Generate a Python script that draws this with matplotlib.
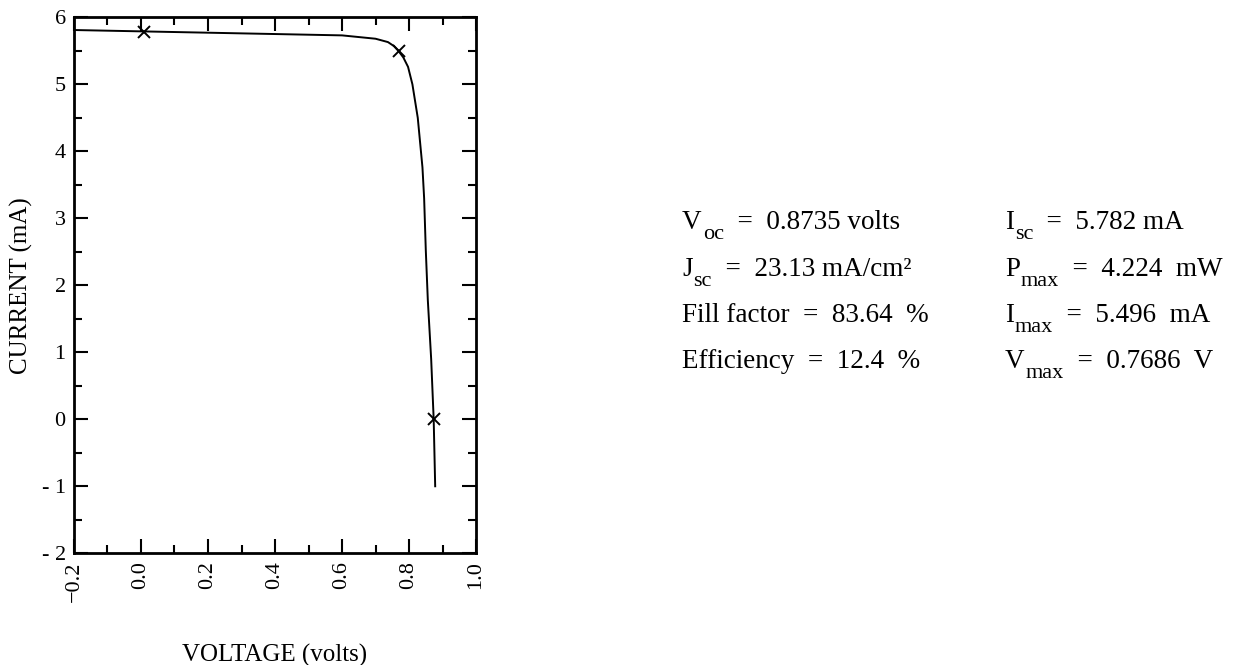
import matplotlib
matplotlib.use("Agg")
import matplotlib.pyplot as plt
from matplotlib.ticker import MultipleLocator

plt.rcParams['font.family'] = ['Liberation Serif', 'DejaVu Serif']

# I-V curve
voltage = [-0.2, 0.0, 0.2, 0.4, 0.6, 0.7, 0.737, 0.755, 0.7686, 0.783, 0.797,
           0.81, 0.826, 0.84, 0.845, 0.85, 0.856, 0.866, 0.8735, 0.878]
current = [5.81, 5.79, 5.77, 5.75, 5.73, 5.68, 5.63, 5.57, 5.496, 5.40, 5.26,
           5.0, 4.5, 3.76, 3.3, 2.52, 1.78, 0.9, 0.0, -1.0]

# marked points (Isc, Pmax, Voc)
mark_v = [0.01, 0.7686, 0.8735]
mark_i = [5.782, 5.496, 0.0]

xticks = [-0.2, 0.0, 0.2, 0.4, 0.6, 0.8, 1.0]
xticklabels = ["\u22120.2", "0.0", "0.2", "0.4", "0.6", "0.8", "1.0"]
yticks = [-2, -1, 0, 1, 2, 3, 4, 5, 6]
yticklabels = ["- 2", "- 1", "0", "1", "2", "3", "4", "5", "6"]

# (main, subscript, rest)
left_text = [("V", "oc", "  =  0.8735 volts"),
             ("J", "sc", "  =  23.13 mA/cm²"),
             ("Fill factor  =  83.64  %", "", ""),
             ("Efficiency  =  12.4  %", "", "")]
right_text = [("I", "sc", "  =  5.782 mA"),
              ("P", "max", "  =  4.224  mW"),
              ("I", "max", "  =  5.496  mA"),
              ("V", "max", "  =  0.7686  V")]

fig = plt.figure(figsize=(12.43, 6.65), dpi=100)
ax = fig.add_axes([0.0595, 0.168, 0.3235, 0.806])

ax.plot(voltage, current, color='black', lw=1.4)
ax.plot(mark_v, mark_i, linestyle='none', marker='x', color='black',
        markersize=9, markeredgewidth=1.4)

ax.set_xlim(-0.2, 1.0)
ax.set_ylim(-2, 6)
ax.set_xticks(xticks)
ax.set_xticklabels(xticklabels, rotation=90, fontsize=16)
ax.set_yticks(yticks)
ax.set_yticklabels(yticklabels, fontsize=16)
ax.xaxis.set_minor_locator(MultipleLocator(0.1))
ax.yaxis.set_minor_locator(MultipleLocator(0.5))
ax.tick_params(which='both', direction='in', top=True, right=True, width=1.5)
ax.tick_params(which='major', length=10, pad=6)
ax.tick_params(which='minor', length=6)
for s in ax.spines.values():
    s.set_linewidth(2)

ax.set_xlabel("VOLTAGE (volts)", fontsize=18, labelpad=30)
ax.set_ylabel("CURRENT (mA)", fontsize=18, labelpad=6)

W, H = 1243.0, 665.0
FS = 19.5
SUBFS = 16
renderer = fig.canvas.get_renderer()


def put(xpx, base_px, parts):
    main, sub, rest = parts
    x = xpx
    t = fig.text(x / W, 1 - base_px / H, main, fontsize=FS, va='baseline', ha='left')
    x += t.get_window_extent(renderer).width
    if sub:
        x += 1
        t = fig.text(x / W, 1 - (base_px + 10) / H, sub, fontsize=SUBFS,
                     va='baseline', ha='left')
        x += t.get_window_extent(renderer).width
    if rest:
        fig.text(x / W, 1 - base_px / H, rest, fontsize=FS, va='baseline', ha='left')


baselines = [229, 276, 322, 368]
for parts, b in zip(left_text, baselines):
    put(682, b, parts)
for parts, b in zip(right_text, baselines):
    put(1005, b, parts)

fig.savefig("out.png", dpi=100)
